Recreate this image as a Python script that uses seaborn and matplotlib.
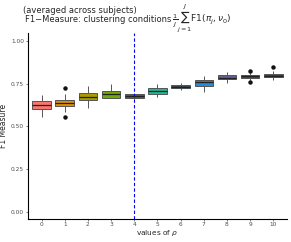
import numpy as np
import pandas as pd
import matplotlib
matplotlib.use('Agg')
import matplotlib.pyplot as plt
import seaborn as sns

# box summaries, one entry per value of rho
rho = ['0', '1', '2', '3', '4', '5', '6', '7', '8', '9', '10']
whisk_lo = [0.557, 0.586, 0.611, 0.664, 0.660, 0.670, 0.713, 0.703, 0.754, 0.775, 0.772]
q1 = [0.600, 0.619, 0.654, 0.668, 0.666, 0.688, 0.725, 0.740, 0.776, 0.787, 0.789]
medians = [0.623, 0.635, 0.674, 0.688, 0.678, 0.707, 0.733, 0.758, 0.787, 0.793, 0.798]
q3 = [0.648, 0.658, 0.694, 0.707, 0.690, 0.723, 0.742, 0.772, 0.803, 0.799, 0.807]
whisk_hi = [0.684, 0.690, 0.736, 0.748, 0.694, 0.748, 0.752, 0.795, 0.818, 0.812, 0.823]
outliers = {'1': [0.555, 0.723], '9': [0.763, 0.824], '10': [0.849]}

colors = ['#F8766D', '#DF8F00', '#A89A00', '#6EAA00', '#1E7A50', '#1FB89A',
          '#33474B', '#1C8FD8', '#6A5B92', '#4F3F58', '#4A3C47']

rows = []
for i, r in enumerate(rho):
    vals = [whisk_lo[i], whisk_lo[i], q1[i], q1[i], medians[i], q3[i], q3[i], whisk_hi[i], whisk_hi[i]]
    out = outliers.get(r, [])
    lows = [v for v in out if v < q1[i]]
    highs = [v for v in out if v > q3[i]]
    if lows:
        vals[0] = lows[0]
    if highs:
        vals[-1] = highs[0]
    for v in vals:
        rows.append({'rho': r, 'F1': v})
df = pd.DataFrame(rows)

sns.set_style('ticks')
fig, ax = plt.subplots(figsize=(2.91, 2.42), dpi=100)
fig.subplots_adjust(left=0.095, right=0.987, top=0.865, bottom=0.095)

sns.boxplot(data=df, x='rho', y='F1', hue='rho', palette=colors, legend=False,
            order=rho, width=0.8, linewidth=0.7, linecolor='#555555', ax=ax,
            saturation=1, whis=1.5, capprops=dict(linewidth=0),
            medianprops=dict(color='#222222', linewidth=0.9),
            flierprops=dict(marker='o', markersize=2.2, markerfacecolor='#111111',
                            markeredgecolor='#111111'))

ax.axvline(4, color='blue', linestyle=(0, (3, 2)), linewidth=0.8)

ax.set_xlim(-0.6, 10.6)
ax.set_ylim(-0.043, 1.05)
ax.set_yticks([0, 0.25, 0.5, 0.75, 1.0])
ax.set_yticklabels(['0.00', '0.25', '0.50', '0.75', '1.00'])
ax.tick_params(labelsize=4.2, colors='#4d4d4d', length=1.5, width=0.5, pad=1)
for s in ['left', 'bottom']:
    ax.spines[s].set_linewidth(0.8)
    ax.spines[s].set_color('black')
sns.despine(ax=ax)

ax.set_xlabel(r'values of $\rho$', fontsize=5.3, labelpad=0.5)
ax.set_ylabel('F1 Measure', fontsize=5.5, labelpad=2)

fig.text(0.08, 0.975, '(averaged across subjects)', fontsize=6, va='top', ha='left')
t1 = fig.text(0.085, 0.908, 'F1\u2212Measure: clustering conditions',
              fontsize=6, va='baseline', ha='left')
fig.canvas.draw()
bb = t1.get_window_extent().transformed(fig.transFigure.inverted())
fig.text(bb.x1 + 0.004, 0.908, r'$\frac{1}{J}\sum_{j=1}^{J}\mathrm{F1}(\pi_j,\nu_0)$',
         fontsize=6.5, va='baseline', ha='left')

fig.savefig('out.png', dpi=100)
